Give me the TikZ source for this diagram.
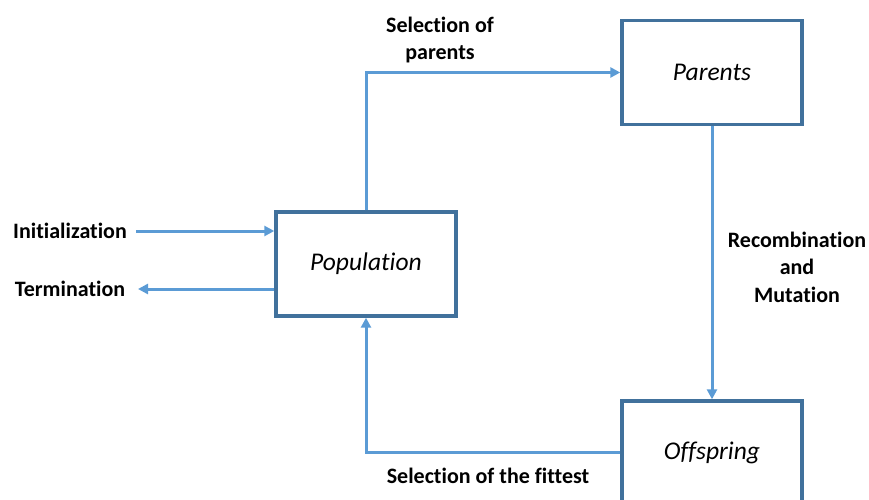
\documentclass[tikz,border=0pt]{standalone}
\usepackage{fontspec}
\setmainfont{Carlito}[Ligatures={NoCommon}]
\usetikzlibrary{arrows.meta}
\begin{document}
\begin{tikzpicture}[x=1pt,y=-1pt,
  box/.style={draw=boxblue,line width=3.4pt,minimum width=180pt,minimum height=104pt,inner sep=0pt,font=\fontsize{25.5}{30}\selectfont\itshape},
  flow/.style={draw=flowblue,line width=3pt,-{Triangle[length=10pt,width=10pt]}},
  lbl/.style={font=\fontsize{22}{27.5}\selectfont\bfseries,align=center,inner sep=0pt}]
\definecolor{boxblue}{HTML}{41719C}
\definecolor{flowblue}{HTML}{5B9BD5}
\useasboundingbox (0,0) rectangle (869,500);
\clip (0,0) rectangle (869,500);
% process boxes
\node[box] (pop) at (366,264) {\raisebox{-2pt}{Population}};
\node[box] (par) at (712,72.5) {\raisebox{-1pt}{Parents}};
\node[box] (off) at (712,453) {\raisebox{-2pt}{Offspring}};
% free ends of the external arrows
\coordinate (init) at (136,231);
\coordinate (term) at (138,289);
% labels
\node[lbl] (linit) at (70,231) {Initialization};
\node[lbl] (lterm) at (70,289) {Termination};
\node[lbl] (lsel) at (440,40) {Selection of\\parents};
\node[lbl] (lrec) at (797,267) {Recombination\\and\\Mutation};
\node[lbl] (lfit) at (488,476) {Selection of the fittest};
% connectors
\draw[flow] (init) -- (init -| pop.west);
\draw[flow] (term -| pop.west) -- (term);
\draw[flow] (pop.north) |- (par.west);
\draw[flow] (par.south) -- (off.north);
\draw[flow] (off.west |- 0,452) -| (pop.south);
\end{tikzpicture}
\end{document}
